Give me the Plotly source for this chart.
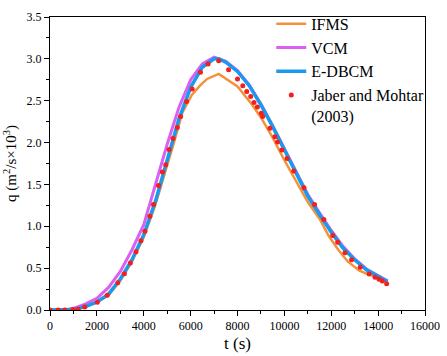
import plotly.graph_objects as go

# IFMS
t_ifms = [0, 1000, 1500, 2000, 2500, 3000, 3500, 4000, 4500, 5000, 5300, 5650, 6050, 6400, 6700, 7200,
          7600, 8000, 8600, 9000, 9500, 10000, 10500, 11000, 11500, 11900, 12300, 12700, 13200, 13550, 14000, 14400]
q_ifms = [0, 0.005, 0.035, 0.09, 0.18, 0.35, 0.58, 0.87, 1.26, 1.72, 2.01, 2.36, 2.57, 2.68, 2.76, 2.82,
          2.75, 2.67, 2.46, 2.30, 2.06, 1.79, 1.54, 1.29, 1.09, 0.88, 0.72, 0.58, 0.47, 0.43, 0.39, 0.34]

# VCM
t_vcm = [0, 500, 750, 1000, 1500, 2000, 2500, 3000, 3500, 4000, 4500, 5000, 5500, 6000, 6500, 7000,
         7500, 8000, 8500, 9000, 9500, 10000, 10500, 11000, 11500, 12000, 12500, 13000, 13500, 14000, 14400]
q_vcm = [0, 0, 0.005, 0.02, 0.07, 0.14, 0.27, 0.46, 0.72, 1.02, 1.50, 1.98, 2.42, 2.75, 2.94, 3.02,
         2.97, 2.86, 2.69, 2.46, 2.20, 1.93, 1.65, 1.38, 1.16, 0.95, 0.76, 0.61, 0.49, 0.41, 0.35]

# E-DBCM
t_edbcm = [0, 500, 1000, 1500, 2000, 2500, 3000, 3500, 4000, 4500, 5000, 5500, 6000, 6500, 7000, 7200,
           7500, 8000, 8500, 9000, 9500, 10000, 10500, 11000, 11500, 12000, 12500, 13000, 13500, 14000, 14400]
q_edbcm = [0, 0, 0.005, 0.04, 0.095, 0.19, 0.37, 0.60, 0.90, 1.30, 1.80, 2.28, 2.66, 2.90, 3.00, 3.00,
           2.96, 2.85, 2.68, 2.45, 2.19, 1.92, 1.64, 1.36, 1.14, 0.93, 0.74, 0.60, 0.48, 0.40, 0.34]

# Jaber and Mohtar (2003)
t_jm = [0, 350, 635, 986, 1198, 1481, 2019, 2442, 2891, 3175, 3429, 3670, 3881, 4050, 4261, 4416, 4628,
        4797, 4938, 5079, 5249, 5431, 5573, 5827, 6066, 6420, 6744, 7196, 7619, 8000, 8226, 8395, 8564,
        8705, 8847, 9016, 9072, 9383, 9594, 9707, 9891, 10116, 10399, 10836, 11288, 11683, 12063, 12275,
        12586, 12868, 13235, 13616, 13869, 14039, 14180, 14363]
q_jm = [0, 0, 0, 0.005, 0.008, 0.035, 0.092, 0.176, 0.326, 0.434, 0.561, 0.695, 0.826, 0.94, 1.12, 1.26, 1.486,
        1.648, 1.736, 1.917, 2.05, 2.18, 2.31, 2.49, 2.64, 2.84, 2.94, 2.976, 2.87, 2.76, 2.68, 2.61, 2.55,
        2.48, 2.425, 2.35, 2.31, 2.17, 2.07, 2.006, 1.91, 1.81, 1.66, 1.46, 1.26, 1.08, 0.89, 0.81,
        0.685, 0.60, 0.51, 0.43, 0.39, 0.366, 0.346, 0.315]

x_ticks = [0, 2000, 4000, 6000, 8000, 10000, 12000, 14000, 16000]
y_ticks = [0.0, 0.5, 1.0, 1.5, 2.0, 2.5, 3.0, 3.5]

fig = go.Figure()
fig.add_trace(go.Scatter(x=t_ifms, y=q_ifms, mode="lines", name="IFMS",
                         line=dict(color="#F4923C", width=2.5)))
fig.add_trace(go.Scatter(x=t_vcm, y=q_vcm, mode="lines", name="VCM",
                         line=dict(color="#DA5FF2", width=3)))
fig.add_trace(go.Scatter(x=t_edbcm, y=q_edbcm, mode="lines", name="E-DBCM",
                         line=dict(color="#1A9AEC", width=3.5)))
fig.add_trace(go.Scatter(x=t_jm, y=q_jm, mode="markers", name="Jaber and Mohtar<br>(2003)",
                         marker=dict(color="#F21F1F", size=5)))

font = "Times New Roman, Liberation Serif"
fig.update_layout(
    width=447, height=356,
    margin=dict(l=50, r=19, t=7, b=45),
    paper_bgcolor="white", plot_bgcolor="white",
    font=dict(family=font, size=12, color="black"),
    showlegend=True,
    legend=dict(x=0.59, y=1.035, xanchor="left", yanchor="top", valign="top",
                bgcolor="rgba(0,0,0,0)", font=dict(size=16, family=font),
                tracegroupgap=0, itemwidth=30),
    xaxis=dict(range=[0, 16000], tickvals=x_ticks, ticktext=[str(v) for v in x_ticks],
               showgrid=False, zeroline=False, showline=True, linecolor="black", linewidth=1,
               mirror=True, ticks="outside", ticklen=5, tickcolor="black",
               minor=dict(dtick=1000, ticks="outside", ticklen=3, tickcolor="black"),
               tickfont=dict(size=12, family=font),
               title=dict(text="t (s)", font=dict(size=17, family=font), standoff=4)),
    yaxis=dict(range=[0, 3.5], tickvals=y_ticks, ticktext=[f"{v:.1f}" for v in y_ticks],
               showgrid=False, zeroline=False, showline=True, linecolor="black", linewidth=1,
               mirror=True, ticks="outside", ticklen=5, tickcolor="black",
               minor=dict(dtick=0.25, ticks="outside", ticklen=3, tickcolor="black"),
               tickfont=dict(size=12, family=font),
               title=dict(text="q (m<sup>2</sup>/s×10<sup>3</sup>)", font=dict(size=15, family=font), standoff=6)),
)

fig.write_html("out.html", config={"displayModeBar": False},
               post_script="document.body.style.margin='0px';document.body.style.overflow='hidden';")
